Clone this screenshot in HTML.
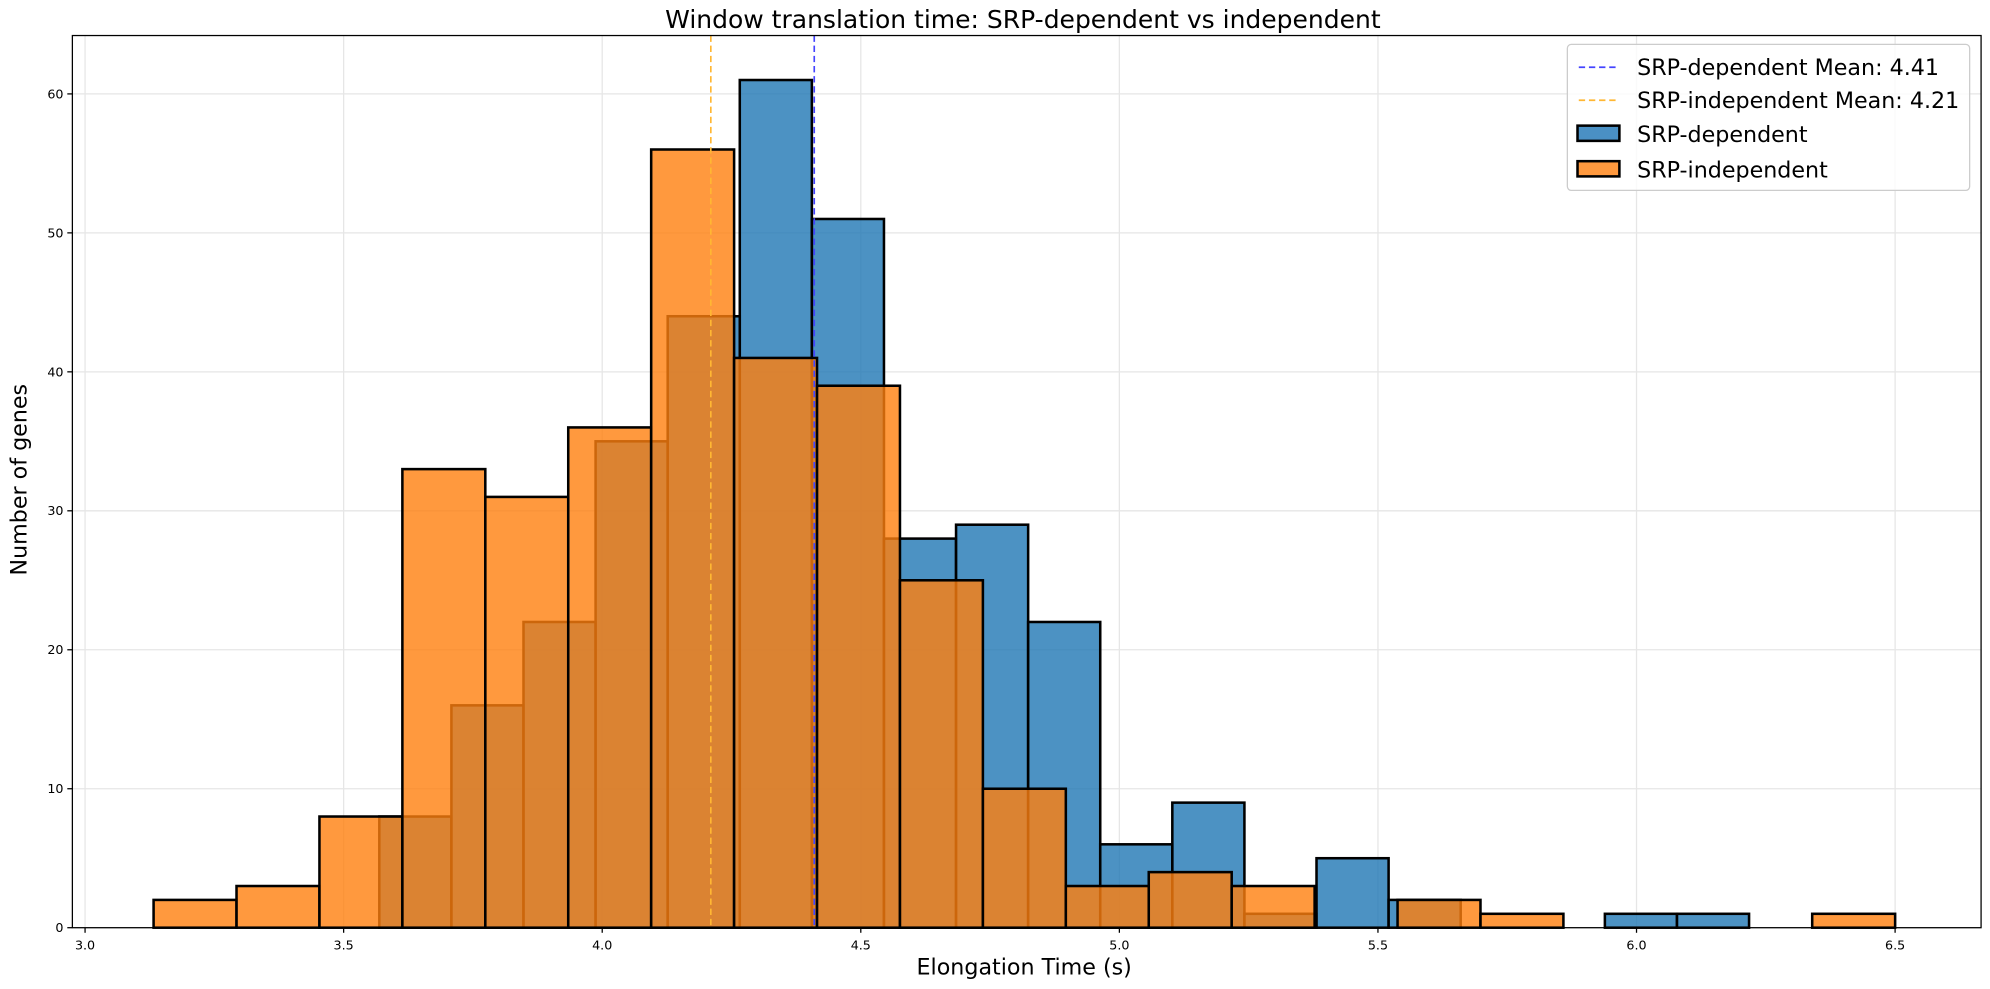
<!DOCTYPE html>
<html><head><meta charset="utf-8"><style>
html,body{margin:0;padding:0;background:#fff}
svg{display:block;font-family:"DejaVu Sans","Liberation Sans",sans-serif}
</style></head><body>
<svg id="chart" width="1990" height="989" viewBox="0 0 1568 779.3" xmlns="http://www.w3.org/2000/svg">
<rect width="1568" height="780" fill="#fff"/>
<g id="grid"></g>
<g id="bars"></g>
<g id="means"></g>
<rect x="57" y="28" width="1504" height="703" fill="none" stroke="#000" stroke-width="1"/>
<g id="ticks"></g>
<text x="806" y="22" font-size="19.7" text-anchor="middle">Window translation time: SRP-dependent vs independent</text>
<text x="807" y="768" font-size="17.5" text-anchor="middle">Elongation Time (s)</text>
<text transform="translate(21,378) rotate(-90)" font-size="17.5" text-anchor="middle">Number of genes</text>
<g>
<rect x="1235" y="35" width="317" height="115" rx="3" fill="#fff" fill-opacity="0.8" stroke="#ccc"/>
<line x1="1244" y1="53" x2="1274" y2="53" stroke="#4444ff" stroke-width="1.3" stroke-dasharray="5,3"/>
<text x="1290" y="59" font-size="17.5">SRP-dependent Mean: 4.41</text>
<line x1="1244" y1="79" x2="1274" y2="79" stroke="#ffb733" stroke-width="1.3" stroke-dasharray="5,3"/>
<text x="1290" y="85" font-size="17.5">SRP-independent Mean: 4.21</text>
<rect x="1243" y="99" width="33" height="12" fill="#4a90c4" stroke="#000" stroke-width="2"/>
<text x="1290" y="112" font-size="17.5">SRP-dependent</text>
<rect x="1243" y="127" width="33" height="12" fill="#ff993e" stroke="#000" stroke-width="2"/>
<text x="1290" y="140" font-size="17.5">SRP-independent</text>
</g>
</svg>
<script>
const blueStart = 3.569, blueWidth = 0.1394;
const blueCounts = [8,16,22,35,44,61,51,28,29,22,6,9,1,5,2,0,0,1,1];
const orangeStart = 3.1325, orangeWidth = 0.16036;
const orangeCounts = [2,3,8,33,31,36,56,41,39,25,10,3,4,3,0,2,1,0,0,0,1];
const means = [4.41, 4.21];
const xTicks = [3.0,3.5,4.0,4.5,5.0,5.5,6.0,6.5];
const yTicks = [0,10,20,30,40,50,60];
const NS = "http://www.w3.org/2000/svg";
function xs(v){return 67 + (v-3)*407.5;}
function ys(v){return 731 - v*10.95;}
function mk(tag, attrs, parent){const e=document.createElementNS(NS,tag);for(const k in attrs)e.setAttribute(k,attrs[k]);parent.appendChild(e);return e;}
const grid=document.getElementById('grid'), bars=document.getElementById('bars'), ticks=document.getElementById('ticks'), mg=document.getElementById('means');
xTicks.forEach(t=>{
  const g=mk('line',{x1:xs(t),x2:xs(t),y1:28,y2:731,stroke:'#e6e6e6','stroke-width':1},grid);
  
  
  mk('line',{x1:xs(t),x2:xs(t),y1:731,y2:735,stroke:'#000'},ticks);
  const l=mk('text',{x:xs(t),y:748,'font-size':10,'text-anchor':'middle'},ticks);
  l.textContent=t.toFixed(1);
  
  
});
yTicks.forEach(t=>{
  const g=mk('line',{x1:57,x2:1561,y1:ys(t),y2:ys(t),stroke:'#e6e6e6','stroke-width':1},grid);
  
  
  mk('line',{x1:53,x2:57,y1:ys(t),y2:ys(t),stroke:'#000'},ticks);
  const l=mk('text',{x:50,y:ys(t)+3.5,'font-size':10,'text-anchor':'end'},ticks);
  l.textContent=t;
  
  
});
function drawSeries(start,w,counts,color,name){
  counts.forEach((c,i)=>{
    if(c<=0)return;
    const x0=xs(start+i*w), x1=xs(start+(i+1)*w);
    const r=mk('rect',{x:x0,y:ys(c),width:x1-x0,height:ys(0)-ys(c),fill:color,'fill-opacity':0.8,stroke:'#000','stroke-width':2},bars);
    
    
  });
}
drawSeries(blueStart,blueWidth,blueCounts,'#1f77b4','srp-dependent');
drawSeries(orangeStart,orangeWidth,orangeCounts,'#ff7f0e','srp-independent');
const mc=['#4444ff','#ffb733'];
means.forEach((m,i)=>{
  const l=mk('line',{x1:xs(m),x2:xs(m),y1:28,y2:731,stroke:mc[i],'stroke-width':1.3,'stroke-dasharray':'5,3'},mg);
  
  
});
</script>
</body></html>
